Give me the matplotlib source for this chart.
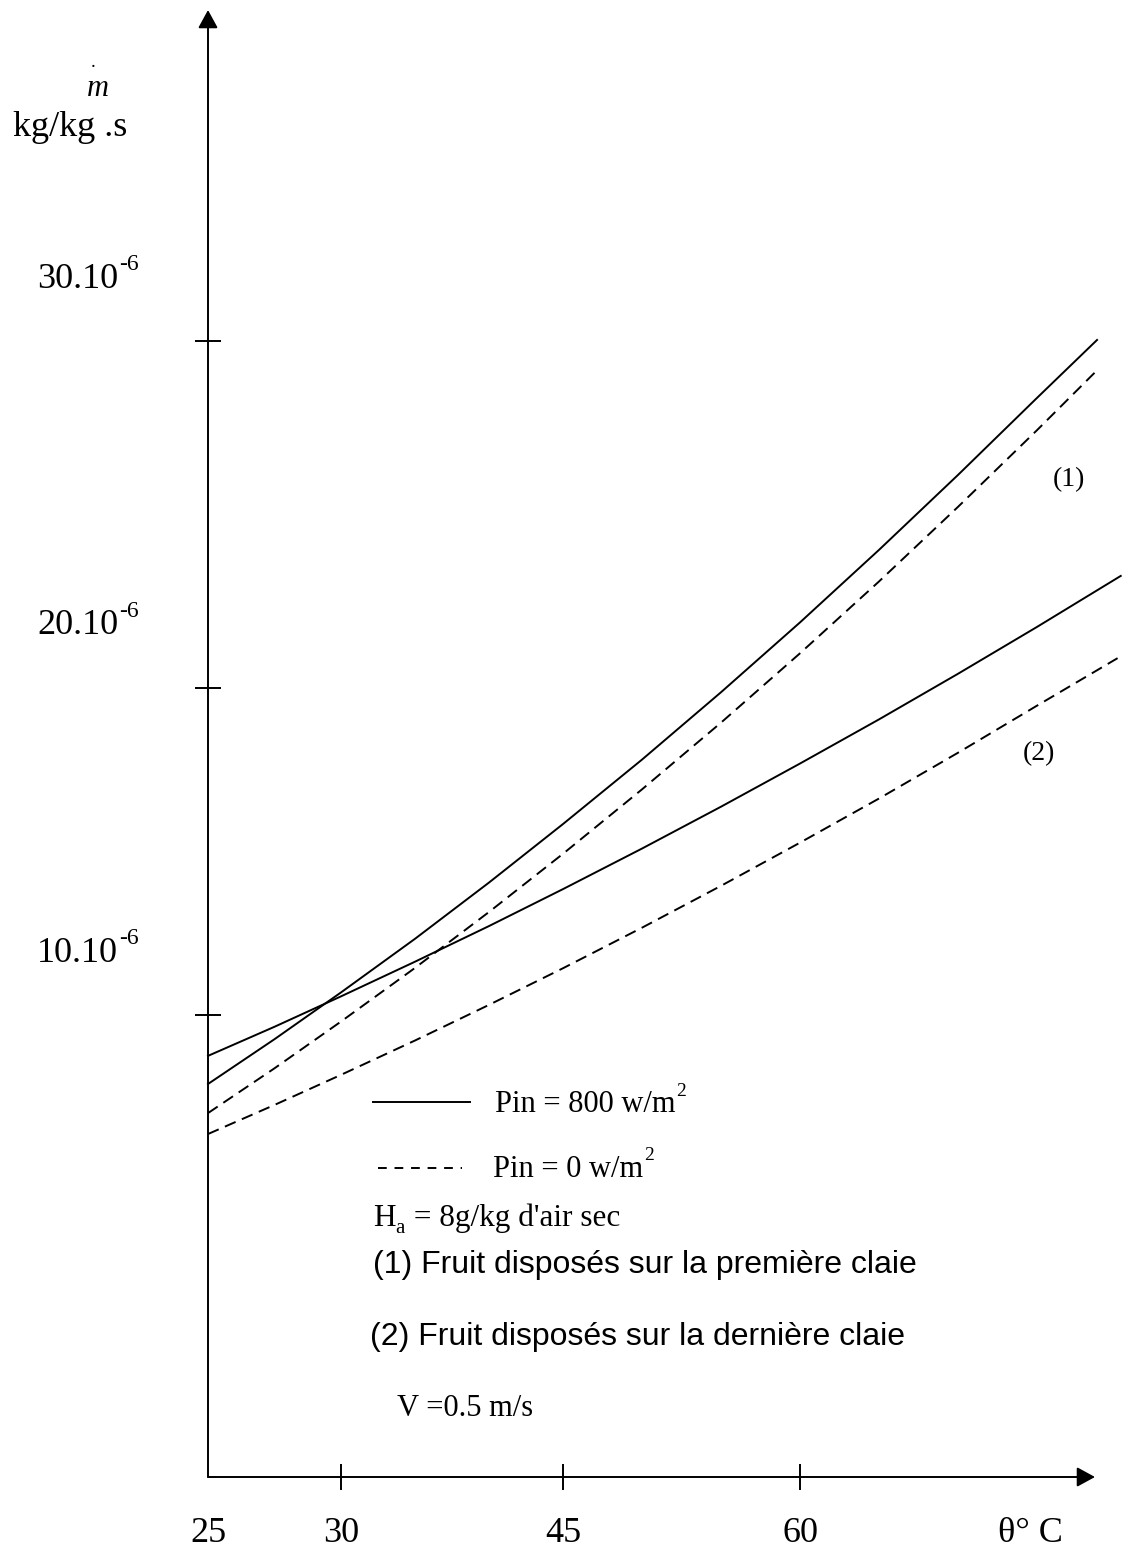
import numpy as np
import matplotlib
matplotlib.use('Agg')
import matplotlib.pyplot as plt
from matplotlib.lines import Line2D

# drying rate m (in 1e-6 kg/kg.s) against air temperature (deg C)
theta_800_first = [25, 27.5, 30, 35, 40, 45, 50, 55, 60, 65, 70, 75, 78.8]
rate_800_first = [7.89, 9.26, 10.69, 12.33, 14.05, 15.84, 17.81, 19.87, 21.89,
                  23.98, 26.14, 28.36, 30.03]

theta_0_first = [25, 27.5, 30, 35, 40, 45, 50, 55, 60, 65, 70, 75, 78.7]
rate_0_first = [7.00, 8.37, 9.80, 11.44, 13.15, 14.93, 16.90, 18.94, 21.00,
                23.07, 25.22, 27.43, 29.11]

theta_800_last = [25, 27.5, 30, 35, 40, 45, 50, 55, 60, 65, 70, 75, 80.3]
rate_800_last = [8.75, 9.64, 10.57, 11.63, 12.72, 13.85, 15.09, 16.37, 17.69,
                 19.04, 20.41, 21.76, 23.23]

theta_0_last = [25, 27.5, 30, 35, 40, 45, 50, 55, 60, 65, 70, 75, 80.1]
rate_0_last = [6.36, 7.25, 8.17, 9.22, 10.31, 11.43, 12.67, 13.95, 15.27,
               16.62, 18.02, 19.46, 20.86]

x_ticks = [30, 45, 60]
x_labels = ['25', '30', '45', '60']
x_label_pos = [25, 30, 45, 60]
y_ticks = [10, 20, 30]
y_labels = ['10.10', '20.10', '30.10']

W, H = 1123, 1553
SERIF = 'Liberation Serif'
SANS = 'Liberation Sans'


def piecewise(xp, fp):
    """linear interpolation with linear extension past both ends"""
    xp = np.asarray(xp, float)
    fp = np.asarray(fp, float)
    s0 = (fp[1] - fp[0]) / (xp[1] - xp[0])
    s1 = (fp[-1] - fp[-2]) / (xp[-1] - xp[-2])

    def f(v):
        v = np.asarray(v, float)
        return np.where(v < xp[0], fp[0] + (v - xp[0]) * s0,
                        np.where(v > xp[-1], fp[-1] + (v - xp[-1]) * s1,
                                 np.interp(v, xp, fp)))
    return f


# the hand drawn axes are not evenly spaced
x_fwd = piecewise([25, 30, 45, 60], [208, 341, 563, 800])
x_inv = piecewise([208, 341, 563, 800], [25, 30, 45, 60])
y_fwd = piecewise([10, 20, 30], [H - 1015, H - 688, H - 341])
y_inv = piecewise([H - 1015, H - 688, H - 341], [10, 20, 30])


def fx(x):
    return x / W


def fy(y):
    return 1 - y / H


fig = plt.figure(figsize=(W / 100, H / 100), dpi=100)
ax = fig.add_axes([fx(208), fy(1477), (1095 - 208) / W, (1477 - 10) / H])
ax.set_xscale('function', functions=(x_fwd, x_inv))
ax.set_yscale('function', functions=(y_fwd, y_inv))
ax.set_xlim(25, float(x_inv(1095)))
ax.set_ylim(float(y_inv(H - 1477)), float(y_inv(H - 10)))

for s in ax.spines.values():
    s.set_visible(False)

lw = 1.4
ax.plot(theta_800_first, rate_800_first, 'k-', lw=lw, clip_on=False)
ax.plot(theta_0_first, rate_0_first, 'k', ls=(0, (6, 3.5)), lw=lw, clip_on=False)
ax.plot(theta_800_last, rate_800_last, 'k-', lw=lw, clip_on=False)
ax.plot(theta_0_last, rate_0_last, 'k', ls=(0, (6, 3.5)), lw=lw, clip_on=False)

# axis lines with arrow heads
arrow = dict(arrowstyle='-|>,head_length=0.55,head_width=0.3', lw=lw,
             color='k', shrinkA=0, shrinkB=0, mutation_scale=20)
ax.annotate('', xy=(0, 1), xytext=(0, 0), xycoords='axes fraction',
            arrowprops=arrow, annotation_clip=False)
ax.annotate('', xy=(1, 0), xytext=(0, 0), xycoords='axes fraction',
            arrowprops=arrow, annotation_clip=False)

ax.set_xticks(x_ticks)
ax.set_yticks(y_ticks)
ax.tick_params(direction='inout', length=19, width=lw, color='k',
               labelbottom=False, labelleft=False)

for pos, lab in zip(x_label_pos, x_labels):
    ax.annotate(lab, xy=(pos, 0), xycoords=ax.get_xaxis_transform(),
                xytext=(0, -56), textcoords='offset pixels',
                ha='center', va='center', fontsize=26, family=SERIF)

for val, lab in zip(y_ticks, y_labels):
    t = ax.annotate(lab, xy=(0, val), xycoords=ax.get_yaxis_transform(),
                    xytext=(-171, 62), textcoords='offset pixels',
                    ha='left', va='center', fontsize=26, family=SERIF)
    ax.annotate('-6', xy=(1, 1), xycoords=t, xytext=(1, -2),
                textcoords='offset pixels', ha='left', va='center',
                fontsize=17, family=SERIF)

# y label: m dot
fig.text(fx(98), fy(89), 'm', ha='center', va='center', fontsize=22,
         family=SERIF, style='italic')
fig.text(fx(93), fy(67), '.', ha='center', va='baseline', fontsize=14,
         family=SERIF)
fig.text(fx(13), fy(128), 'kg/kg .s', ha='left', va='center', fontsize=26,
         family=SERIF)
fig.text(fx(1030), fy(1533), 'θ° C', ha='center', va='center', fontsize=26,
         family=SERIF)

# curve group labels
ax.text(77.0, 26.0, '(1)', ha='center', va='center', fontsize=20, family=SERIF)
ax.text(75.1, 18.0, '(2)', ha='center', va='center', fontsize=20, family=SERIF)

# hand made legend
fig.add_artist(Line2D([fx(373), fx(470)], [fy(1102), fy(1102)], color='k', lw=lw))
fig.add_artist(Line2D([fx(378), fx(462)], [fy(1168), fy(1168)], color='k', lw=lw,
                      ls=(0, (4.5, 4))))
t = fig.text(fx(495), fy(1112), 'Pin = 800 w/m', ha='left', va='baseline',
             fontsize=22, family=SERIF)
ax.annotate('2', xy=(1, 1), xycoords=t, xytext=(1, -1), textcoords='offset pixels',
            ha='left', va='center', fontsize=14, family=SERIF)
t = fig.text(fx(493), fy(1177), 'Pin = 0 w/m', ha='left', va='baseline',
             fontsize=22, family=SERIF)
ax.annotate('2', xy=(1, 1), xycoords=t, xytext=(1, -1), textcoords='offset pixels',
            ha='left', va='center', fontsize=14, family=SERIF)

t = fig.text(fx(373), fy(1226), 'H', ha='left', va='baseline', fontsize=22.5,
             family=SERIF)
ax.annotate('a', xy=(1, 0), xycoords=t, xytext=(0, 0),
            textcoords='offset pixels', ha='left', va='baseline',
            fontsize=15, family=SERIF)
ax.annotate(" = 8g/kg d'air sec", xy=(1, 0), xycoords=t, xytext=(10, 0),
            textcoords='offset pixels', ha='left', va='bottom',
            fontsize=22.5, family=SERIF)

fig.text(fx(373), fy(1265), '(1) Fruit disposés sur la première claie',
         ha='left', va='center', fontsize=23, family=SANS)
fig.text(fx(370), fy(1337), '(2) Fruit disposés sur la dernière claie',
         ha='left', va='center', fontsize=23, family=SANS)
fig.text(fx(397), fy(1408), 'V =0.5 m/s', ha='left', va='center', fontsize=22,
         family=SERIF)

fig.savefig('out.png', dpi=100, facecolor='white')
